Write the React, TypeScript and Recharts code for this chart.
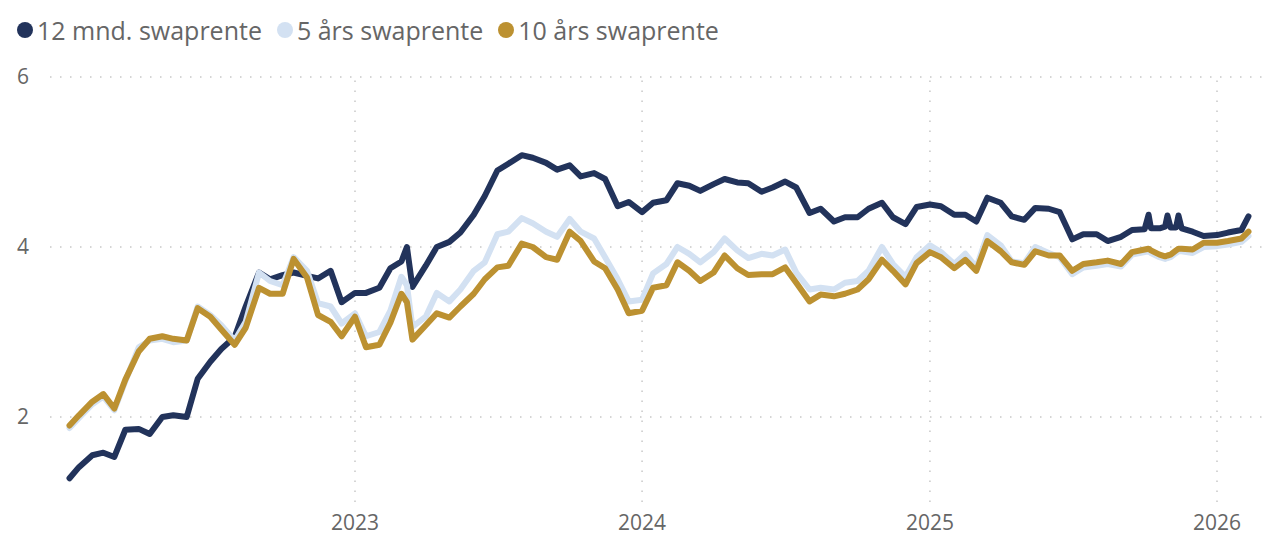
import { LineChart, Line, XAxis, YAxis, ReferenceLine } from 'recharts';

const dates = [
  '2022-01-03', '2022-01-15', '2022-02-01', '2022-02-15', '2022-03-01', '2022-03-15',
  '2022-04-01', '2022-04-15', '2022-05-01', '2022-05-15', '2022-06-01', '2022-06-15',
  '2022-07-01', '2022-07-15', '2022-08-01', '2022-08-15', '2022-09-01', '2022-09-15',
  '2022-10-01', '2022-10-15', '2022-11-01', '2022-11-15', '2022-12-01', '2022-12-15',
  '2023-01-01', '2023-01-15', '2023-02-01', '2023-02-15', '2023-03-01', '2023-03-08',
  '2023-03-15', '2023-04-01', '2023-04-15', '2023-05-01', '2023-05-15', '2023-06-01',
  '2023-06-15', '2023-07-01', '2023-07-15', '2023-08-01', '2023-08-15', '2023-09-01',
  '2023-09-15', '2023-10-01', '2023-10-15', '2023-11-01', '2023-11-15', '2023-12-01',
  '2023-12-15', '2024-01-01', '2024-01-15', '2024-02-01', '2024-02-15', '2024-03-01',
  '2024-03-15', '2024-04-01', '2024-04-15', '2024-05-01', '2024-05-15', '2024-06-01',
  '2024-06-15', '2024-07-01', '2024-07-15', '2024-08-01', '2024-08-15', '2024-09-01',
  '2024-09-15', '2024-10-01', '2024-10-15', '2024-11-01', '2024-11-15', '2024-12-01',
  '2024-12-15', '2025-01-01', '2025-01-15', '2025-02-01', '2025-02-15', '2025-03-01',
  '2025-03-15', '2025-04-01', '2025-04-15', '2025-05-01', '2025-05-15', '2025-06-01',
  '2025-06-15', '2025-07-01', '2025-07-15', '2025-08-01', '2025-08-15', '2025-09-01',
  '2025-09-15', '2025-10-01', '2025-10-06', '2025-10-09', '2025-10-20', '2025-10-27',
  '2025-10-30', '2025-11-03', '2025-11-10', '2025-11-13', '2025-11-17', '2025-12-01',
  '2025-12-15', '2026-01-01', '2026-01-15', '2026-02-01', '2026-02-10',
];

// 12 mnd. swaprente
const swap12m = [
  1.28, 1.41, 1.55, 1.58, 1.53, 1.85,
  1.86, 1.80, 2.00, 2.02, 2.00, 2.45,
  2.65, 2.80, 2.94, 3.30, 3.70, 3.62,
  3.67, 3.70, 3.66, 3.63, 3.72, 3.35,
  3.46, 3.46, 3.52, 3.75, 3.83, 4.00,
  3.53, 3.78, 4.00, 4.06, 4.17, 4.38,
  4.60, 4.90, 4.98, 5.08, 5.05, 4.99,
  4.91, 4.96, 4.83, 4.87, 4.80, 4.48,
  4.53, 4.41, 4.52, 4.55, 4.75, 4.72,
  4.66, 4.74, 4.80, 4.76, 4.75, 4.65,
  4.70, 4.77, 4.70, 4.40, 4.45, 4.30,
  4.35, 4.35, 4.45, 4.52, 4.35, 4.27,
  4.47, 4.50, 4.48, 4.38, 4.38, 4.30,
  4.58, 4.52, 4.36, 4.32, 4.46, 4.45,
  4.41, 4.09, 4.15, 4.15, 4.07, 4.12,
  4.20, 4.21, 4.38, 4.22, 4.22, 4.24,
  4.37, 4.23, 4.23, 4.37, 4.22, 4.18,
  4.13, 4.14, 4.17, 4.20, 4.36,
];

// 5 års swaprente
const swap5y = [
  1.87, 1.99, 2.15, 2.24, 2.08, 2.42,
  2.82, 2.90, 2.92, 2.88, 2.90, 3.30,
  3.20, 3.08, 2.90, 3.12, 3.70, 3.60,
  3.55, 3.88, 3.72, 3.34, 3.30, 3.10,
  3.22, 2.95, 3.00, 3.25, 3.65, 3.55,
  3.06, 3.18, 3.46, 3.36, 3.50, 3.72,
  3.82, 4.15, 4.18, 4.34, 4.28, 4.18,
  4.12, 4.33, 4.18, 4.10, 3.88, 3.62,
  3.36, 3.38, 3.69, 3.80, 4.00, 3.92,
  3.82, 3.94, 4.10, 3.96, 3.87, 3.92,
  3.90, 3.97, 3.70, 3.50, 3.52, 3.50,
  3.58, 3.60, 3.72, 4.00, 3.80, 3.65,
  3.88, 4.02, 3.94, 3.80, 3.92, 3.76,
  4.14, 4.02, 3.83, 3.81, 4.00, 3.93,
  3.88, 3.68, 3.76, 3.78, 3.80, 3.77,
  3.91, 3.94, 3.95, 3.93, 3.88, 3.86,
  3.87, 3.88, 3.93, 3.95, 3.95, 3.93,
  4.00, 4.01, 4.03, 4.06, 4.13,
];

// 10 års swaprente
const swap10y = [
  1.90, 2.02, 2.18, 2.27, 2.10, 2.44,
  2.77, 2.92, 2.95, 2.92, 2.90, 3.28,
  3.18, 3.03, 2.85, 3.05, 3.52, 3.45,
  3.45, 3.86, 3.64, 3.20, 3.12, 2.95,
  3.18, 2.82, 2.85, 3.11, 3.45, 3.35,
  2.91, 3.08, 3.22, 3.17, 3.30, 3.45,
  3.62, 3.76, 3.78, 4.04, 4.00, 3.88,
  3.85, 4.18, 4.07, 3.83, 3.75, 3.50,
  3.22, 3.25, 3.52, 3.55, 3.82, 3.72,
  3.60, 3.70, 3.90, 3.75, 3.67, 3.68,
  3.68, 3.76, 3.58, 3.36, 3.44, 3.42,
  3.45, 3.50, 3.62, 3.85, 3.72, 3.56,
  3.81, 3.94, 3.88, 3.75, 3.85, 3.72,
  4.07, 3.95, 3.82, 3.79, 3.95, 3.90,
  3.90, 3.72, 3.80, 3.82, 3.84, 3.80,
  3.94, 3.97, 3.98, 3.96, 3.91, 3.89,
  3.90, 3.91, 3.96, 3.98, 3.98, 3.97,
  4.05, 4.05, 4.07, 4.10, 4.18,
];

const yearTicks = ['2023-01-01', '2024-01-01', '2025-01-01', '2026-01-01'];
const yTicks = [2, 4, 6];

const series = [
  { key: 'n12', name: '12 mnd. swaprente', color: '#22335b' },
  { key: 'y5', name: '5 års swaprente', color: '#d3e1f2' },
  { key: 'y10', name: '10 års swaprente', color: '#bc9131' },
];

const toTime = (d: string) => new Date(d + 'T00:00:00Z').getTime();

const data = dates.map((d, i) => ({
  t: toTime(d),
  n12: swap12m[i],
  y5: swap5y[i],
  y10: swap10y[i],
}));

const xTicks = yearTicks.map(toTime);
// pad the time axis like the original (plot spans a bit before 2022 and after Feb 2026)
const span = xTicks[3] - xTicks[0];
const xDomain = [xTicks[0] - (span * 305) / 862, xTicks[3] + (span * 45) / 862];

const font = '"Segoe UI", "Open Sans", sans-serif';
const textColor = '#666666';
const gridColor = '#c8c8c8';
const gridDash = '1.5 8.5';

function LegendBar() {
  return (
    <div
      style={{
        position: 'absolute',
        left: 17,
        top: 13,
        display: 'flex',
        alignItems: 'center',
        fontFamily: font,
        fontSize: 25,
        color: textColor,
        whiteSpace: 'nowrap',
      }}
    >
      {series.map((s) => (
        <div key={s.key} style={{ display: 'flex', alignItems: 'center', marginRight: 15 }}>
          <span
            style={{
              width: 16,
              height: 16,
              borderRadius: '50%',
              background: s.color,
              display: 'inline-block',
              marginRight: 4,
            }}
          />
          <span>{s.name}</span>
        </div>
      ))}
    </div>
  );
}

export default function App() {
  return (
    <div style={{ position: 'absolute', left: 0, top: 0, width: 1281, height: 540, background: '#fff' }}>
      <LegendBar />
      <LineChart width={1281} height={540} data={data} margin={{ top: 77, right: 19, bottom: 0, left: 0 }}>
        {yTicks.map((v) => (
          <ReferenceLine key={'y' + v} y={v} stroke={gridColor} strokeDasharray={gridDash} strokeWidth={1.5} />
        ))}
        {xTicks.map((t) => (
          <ReferenceLine key={'x' + t} x={t} stroke={gridColor} strokeDasharray={gridDash} strokeWidth={1.5} />
        ))}
        <XAxis
          dataKey="t"
          type="number"
          scale="time"
          domain={xDomain}
          ticks={xTicks}
          tickFormatter={(v: number) => String(new Date(v).getUTCFullYear())}
          axisLine={false}
          tickLine={false}
          tickSize={0}
          tickMargin={13}
          height={38}
          tick={{ fill: textColor, fontSize: 21, fontFamily: font }}
        />
        <YAxis
          type="number"
          domain={[1, 6]}
          ticks={yTicks}
          axisLine={false}
          tickLine={false}
          tickSize={0}
          tickMargin={21}
          width={50}
          tick={{ fill: textColor, fontSize: 21, fontFamily: font }}
        />
        {series.map((s) => (
          <Line
            key={s.key}
            dataKey={s.key}
            name={s.name}
            type="linear"
            stroke={s.color}
            strokeWidth={6}
            strokeLinejoin="round"
            strokeLinecap="round"
            dot={false}
            isAnimationActive={false}
          />
        ))}
      </LineChart>
    </div>
  );
}
